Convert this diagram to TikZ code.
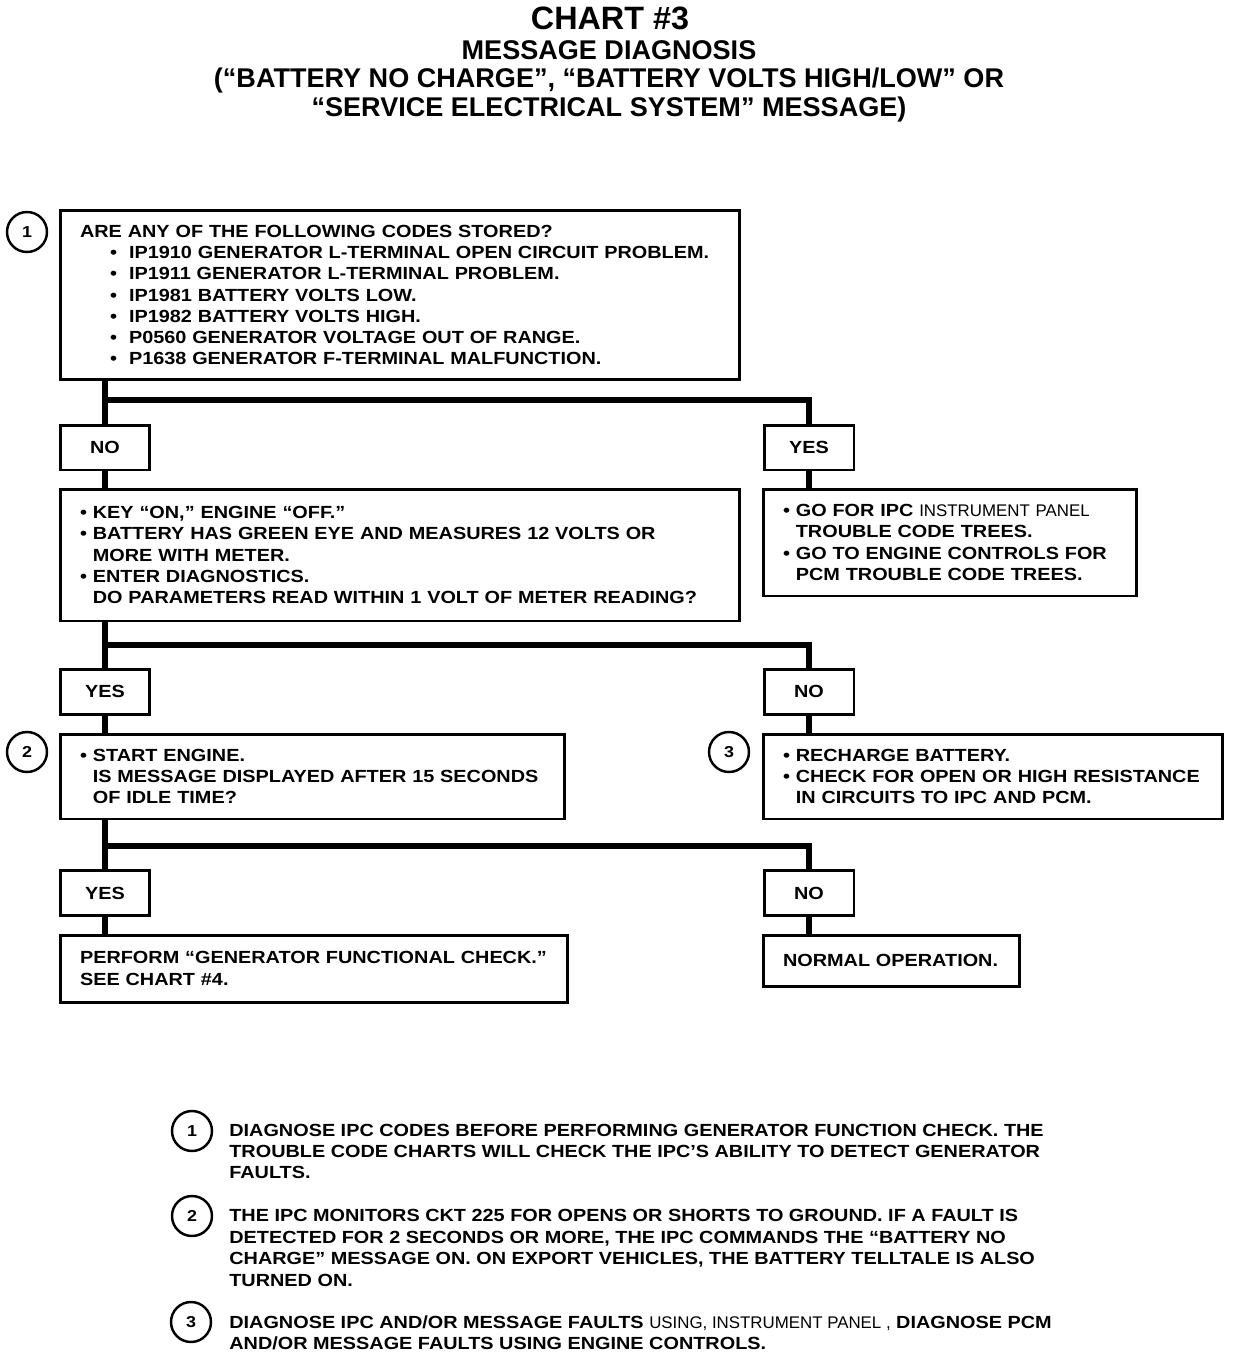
\documentclass[tikz,border=0pt]{standalone}
\usepackage{fontspec}
\setmainfont{Liberation Sans}[FakeStretch=1.13]
\newfontfamily\titlefont{Liberation Sans}
\newfontfamily\plainfont{Liberation Sans}
\usetikzlibrary{positioning}

\newcommand{\itm}{\textbullet\ }
\newcommand{\hang}{\hphantom{\textbullet\ }}
\newcommand{\subitm}{\hspace*{0.6cm}\makebox[0.38cm][l]{\textbullet}}
\newcommand{\thin}[1]{{\plainfont\mdseries\fontsize{9.6}{12.1}\selectfont #1}}

\begin{document}
\begin{tikzpicture}[x=0.02cm, y=-0.02cm,
    box/.style={draw, line width=1.7pt, inner xsep=0.4cm, inner ysep=0pt, align=left,
        font=\bfseries\fontsize{10}{12.1}\selectfont},
    ans/.style={draw, line width=1.7pt, minimum width=1.8cm, minimum height=0.9cm,
        inner sep=0pt, font=\bfseries\fontsize{10}{12.1}\selectfont},
    link/.style={line width=3.2pt},
    num/.style={circle, draw, line width=1.4pt, minimum size=0.8cm, inner sep=0pt,
        font=\bfseries\fontsize{9}{10}\selectfont},
    note/.style={anchor=west, align=left, inner sep=0pt,
        font=\bfseries\fontsize{10}{12.2}\selectfont}]
    \useasboundingbox (0,0) rectangle (1248,1360);

    % title
    \node[font=\titlefont\bfseries\fontsize{18.4}{20}\selectfont] (title) at (610,18) {CHART \#3};
    \node[align=center, font=\titlefont\bfseries\fontsize{15.4}{16.2}\selectfont] (subtitle) at (609,81)
        {MESSAGE DIAGNOSIS\\(“BATTERY NO CHARGE”, “BATTERY VOLTS HIGH/LOW” OR\\“SERVICE ELECTRICAL SYSTEM” MESSAGE)};

    % codes stored?
    \node[box, text width=12.8cm, minimum height=3.4cm] (q1) at (400,295)
        {ARE ANY OF THE FOLLOWING CODES STORED?\\
        \subitm IP1910 GENERATOR L-TERMINAL OPEN CIRCUIT PROBLEM.\\
        \subitm IP1911 GENERATOR L-TERMINAL PROBLEM.\\
        \subitm IP1981 BATTERY VOLTS LOW.\\
        \subitm IP1982 BATTERY VOLTS HIGH.\\
        \subitm P0560 GENERATOR VOLTAGE OUT OF RANGE.\\
        \subitm P1638 GENERATOR F-TERMINAL MALFUNCTION.};
    \node[num] (c1) at (27,232) {1};
    \node[ans] (no1) at (105,447.5) {NO};
    \node[ans] (yes1) at (809,447.5) {YES};
    \coordinate (s1) at (105,400);
    \draw[link] (q1.south -| no1.north) -- (no1.north);
    \draw[link] (s1) -| (yes1.north);

    % battery check
    \node[box, text width=12.8cm, minimum height=2.64cm] (q2) at (400,555)
        {\itm KEY “ON,” ENGINE “OFF.”\\
        \itm BATTERY HAS GREEN EYE AND MEASURES 12 VOLTS OR\\
        \hang MORE WITH METER.\\
        \itm ENTER DIAGNOSTICS.\\
        \hang DO PARAMETERS READ WITHIN 1 VOLT OF METER READING?};
    \node[box, text width=6.68cm, minimum height=2.14cm] (r1) at (950,542.5)
        {\itm GO FOR IPC \thin{INSTRUMENT PANEL}\\
        \hang TROUBLE CODE TREES.\\
        \itm GO TO ENGINE CONTROLS FOR\\
        \hang PCM TROUBLE CODE TREES.};
    \draw[link] (no1.south) -- (no1.south |- q2.north);
    \draw[link] (yes1.south) -- (yes1.south |- r1.north);

    \node[ans] (yes2) at (105,691.5) {YES};
    \node[ans] (no2) at (809,691.5) {NO};
    \coordinate (s2) at (105,645);
    \draw[link] (q2.south -| yes2.north) -- (yes2.north);
    \draw[link] (s2) -| (no2.north);

    % start engine
    \node[box, text width=9.3cm, minimum height=1.7cm] (q3) at (312.5,776.5)
        {\itm START ENGINE.\\
        \hang IS MESSAGE DISPLAYED AFTER 15 SECONDS\\
        \hang OF IDLE TIME?};
    \node[num] (c2) at (27,752) {2};
    \node[box, text width=8.4cm, minimum height=1.7cm] (r2) at (993,776.5)
        {\itm RECHARGE BATTERY.\\
        \itm CHECK FOR OPEN OR HIGH RESISTANCE\\
        \hang IN CIRCUITS TO IPC AND PCM.};
    \node[num] (c3) at (729,752) {3};
    \draw[link] (yes2.south) -- (yes2.south |- q3.north);
    \draw[link] (no2.south) -- (no2.south |- r2.north);

    \node[ans] (yes3) at (105,893) {YES};
    \node[ans] (no3) at (809,893) {NO};
    \coordinate (s3) at (105,846);
    \draw[link] (q3.south -| yes3.north) -- (yes3.north);
    \draw[link] (s3) -| (no3.north);

    % results
    \node[box, text width=9.36cm, minimum height=1.34cm] (r3) at (314,968.5)
        {PERFORM “GENERATOR FUNCTIONAL CHECK.”\\SEE CHART \#4.};
    \node[box, text width=4.34cm, minimum height=1.02cm] (r4) at (891.5,960.5)
        {NORMAL OPERATION.};
    \draw[link] (yes3.south) -- (yes3.south |- r3.north);
    \draw[link] (no3.south) -- (no3.south |- r4.north);

    % notes
    \node[num] (f1) at (192,1131) {1};
    \node[note] (n1) at (229,1151.5)
        {DIAGNOSE IPC CODES BEFORE PERFORMING GENERATOR FUNCTION CHECK. THE\\
        TROUBLE CODE CHARTS WILL CHECK THE IPC’S ABILITY TO DETECT GENERATOR\\
        FAULTS.};
    \node[num] (f2) at (192,1216) {2};
    \node[note] (n2) at (229,1248)
        {THE IPC MONITORS CKT 225 FOR OPENS OR SHORTS TO GROUND. IF A FAULT IS\\
        DETECTED FOR 2 SECONDS OR MORE, THE IPC COMMANDS THE “BATTERY NO\\
        CHARGE” MESSAGE ON. ON EXPORT VEHICLES, THE BATTERY TELLTALE IS ALSO\\
        TURNED ON.};
    \node[num] (f3) at (191,1322) {3};
    \node[note] (n3) at (229,1333)
        {DIAGNOSE IPC AND/OR MESSAGE FAULTS \thin{USING, INSTRUMENT PANEL ,} DIAGNOSE PCM\\
        AND/OR MESSAGE FAULTS USING ENGINE CONTROLS.};
\end{tikzpicture}
\end{document}
